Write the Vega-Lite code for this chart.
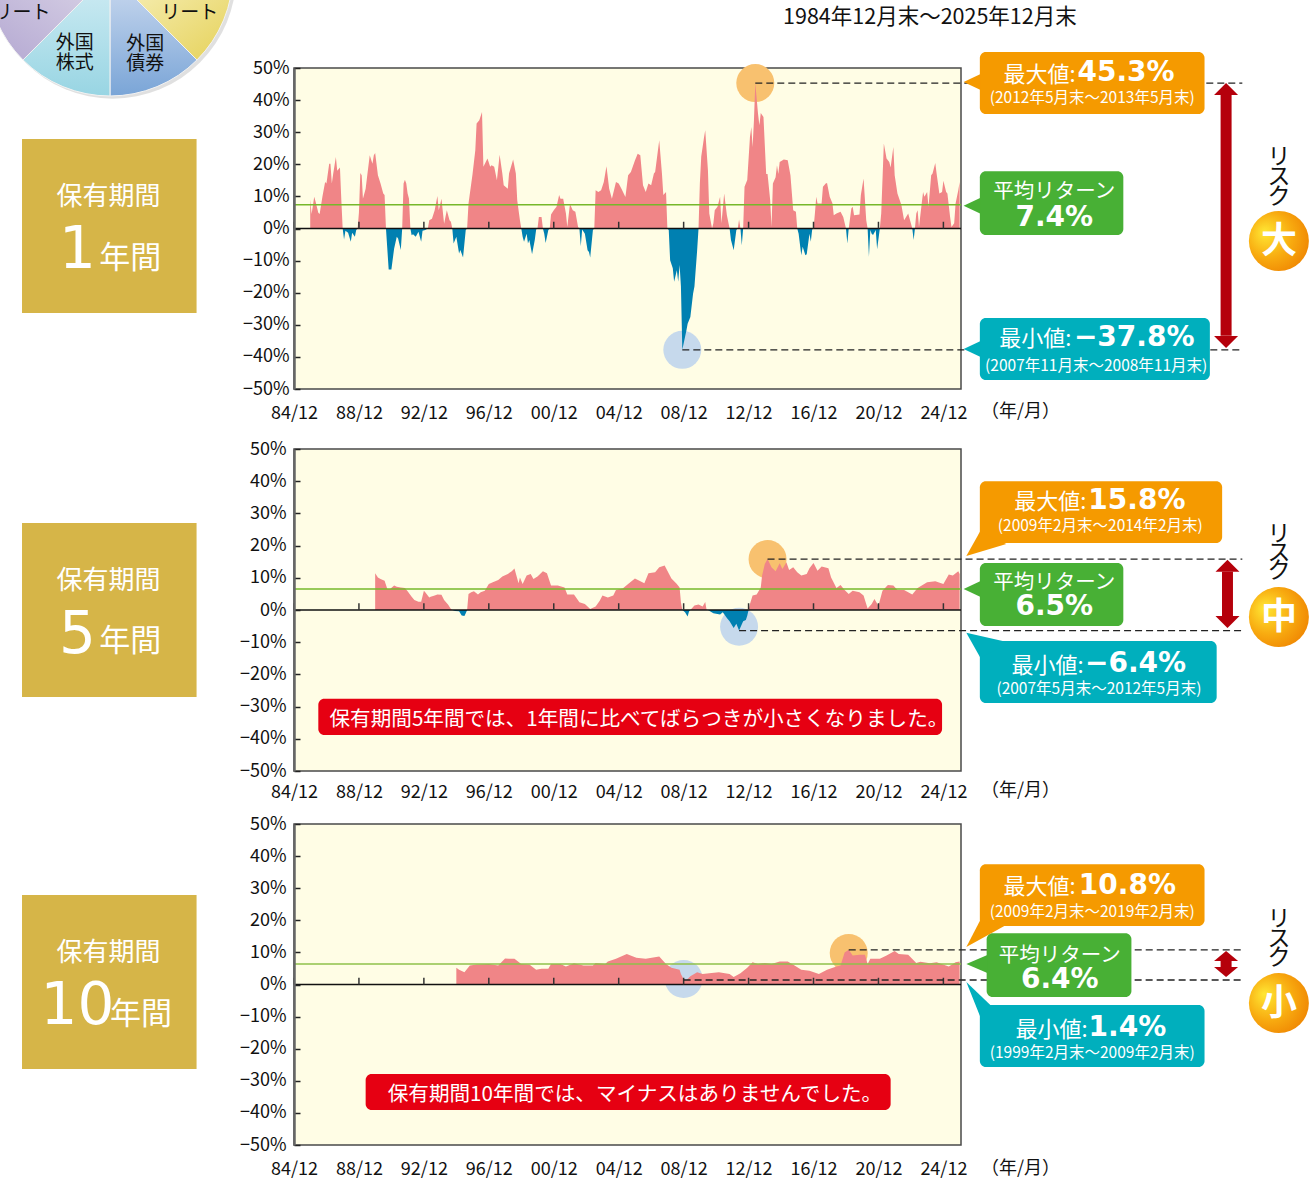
{"$schema":"https://vega.github.io/schema/vega-lite/v6.json","autosize":{"type":"none"},"padding":{"left":294,"top":68,"right":1016,"bottom":1113},"background":"#ffffff","bounds":"flush","spacing":0,"config":{"view":{"fill":"#fffde5","stroke":"#4a4a4a","strokeWidth":1.5},"text":{"font":"Noto Sans CJK JP"},"axis":{"labelFont":"Noto Sans CJK JP","labelColor":"#111111"}},
"datasets":{
"ticks":[{"d":"1984-12","r":0,"r2":2.1},{"d":"1988-12","r":0,"r2":2.1},{"d":"1992-12","r":0,"r2":2.1},{"d":"1996-12","r":0,"r2":2.1},{"d":"2000-12","r":0,"r2":2.1},{"d":"2004-12","r":0,"r2":2.1},{"d":"2008-12","r":0,"r2":2.1},{"d":"2012-12","r":0,"r2":2.1},{"d":"2016-12","r":0,"r2":2.1},{"d":"2020-12","r":0,"r2":2.1},{"d":"2024-12","r":0,"r2":2.1}],
"zero":[{"d":"1984-12","d2":"2026-01","r":0}],
"s1":[{"d":"1985-12","r":9},{"d":"1986-01","r":4.5},{"d":"1986-03","r":9.9},{"d":"1986-04","r":8.3},{"d":"1986-06","r":4.9},{"d":"1986-07","r":4.5},{"d":"1986-09","r":9.9},{"d":"1986-11","r":14.5},{"d":"1986-12","r":14},{"d":"1987-02","r":20.2},{"d":"1987-03","r":20.2},{"d":"1987-04","r":14},{"d":"1987-05","r":17},{"d":"1987-07","r":22.3},{"d":"1987-08","r":18},{"d":"1987-10","r":19},{"d":"1987-11","r":8.8},{"d":"1987-12","r":0},{"d":"1988-01","r":-3.4},{"d":"1988-02","r":-0.7},{"d":"1988-04","r":-1.3},{"d":"1988-06","r":-4.1},{"d":"1988-07","r":-1.3},{"d":"1988-09","r":-2.6},{"d":"1988-10","r":-0.5},{"d":"1988-11","r":0},{"d":"1988-12","r":5},{"d":"1989-01","r":17.3},{"d":"1989-02","r":16.6},{"d":"1989-03","r":9.3},{"d":"1989-05","r":12.4},{"d":"1989-06","r":16},{"d":"1989-08","r":22.8},{"d":"1989-10","r":20.2},{"d":"1989-11","r":22.8},{"d":"1989-12","r":23.5},{"d":"1990-02","r":16.6},{"d":"1990-04","r":14},{"d":"1990-06","r":10.9},{"d":"1990-07","r":10.4},{"d":"1990-08","r":0},{"d":"1990-10","r":-12.8},{"d":"1990-12","r":-12.8},{"d":"1991-02","r":-6.2},{"d":"1991-04","r":-2.6},{"d":"1991-05","r":-3.1},{"d":"1991-07","r":-6.7},{"d":"1991-08","r":0},{"d":"1991-09","r":14},{"d":"1991-10","r":15.2},{"d":"1991-11","r":14},{"d":"1991-12","r":10.9},{"d":"1992-01","r":9.3},{"d":"1992-02","r":0},{"d":"1992-03","r":-2.1},{"d":"1992-04","r":-1.8},{"d":"1992-06","r":-2.6},{"d":"1992-08","r":-1},{"d":"1992-10","r":-4.1},{"d":"1992-11","r":-0.7},{"d":"1993-01","r":-0.5},{"d":"1993-03","r":0},{"d":"1993-04","r":2.6},{"d":"1993-06","r":3},{"d":"1993-08","r":5.7},{"d":"1993-10","r":10.1},{"d":"1993-11","r":5.7},{"d":"1994-01","r":9.3},{"d":"1994-03","r":1.5},{"d":"1994-05","r":5.7},{"d":"1994-07","r":2.6},{"d":"1994-08","r":2.1},{"d":"1994-09","r":0},{"d":"1994-10","r":-4.7},{"d":"1994-12","r":-2.6},{"d":"1995-02","r":-7.8},{"d":"1995-03","r":-6.7},{"d":"1995-05","r":-9},{"d":"1995-07","r":-0.5},{"d":"1995-08","r":0},{"d":"1995-09","r":7.8},{"d":"1995-12","r":17},{"d":"1996-02","r":24.4},{"d":"1996-03","r":32.7},{"d":"1996-05","r":33.7},{"d":"1996-07","r":36.3},{"d":"1996-08","r":19.2},{"d":"1996-11","r":21.8},{"d":"1997-01","r":19.2},{"d":"1997-02","r":19.7},{"d":"1997-04","r":19.2},{"d":"1997-06","r":15},{"d":"1997-08","r":23},{"d":"1997-10","r":17.1},{"d":"1997-11","r":13.5},{"d":"1998-02","r":12.4},{"d":"1998-03","r":17.1},{"d":"1998-06","r":21.5},{"d":"1998-08","r":17.1},{"d":"1998-09","r":8.8},{"d":"1998-11","r":2.6},{"d":"1998-12","r":0},{"d":"1999-01","r":-2.6},{"d":"1999-02","r":-4.1},{"d":"1999-04","r":-1.6},{"d":"1999-05","r":-4.7},{"d":"1999-06","r":-3.6},{"d":"1999-08","r":-8},{"d":"1999-10","r":-3.6},{"d":"1999-11","r":-0.3},{"d":"1999-12","r":0},{"d":"2000-01","r":3.6},{"d":"2000-03","r":3.6},{"d":"2000-04","r":0},{"d":"2000-05","r":-1.6},{"d":"2000-06","r":-4.5},{"d":"2000-08","r":-0.5},{"d":"2000-09","r":0},{"d":"2000-10","r":4.4},{"d":"2000-12","r":5.7},{"d":"2001-02","r":6.8},{"d":"2001-04","r":10.4},{"d":"2001-05","r":9.3},{"d":"2001-07","r":9.3},{"d":"2001-09","r":4.7},{"d":"2001-10","r":0.5},{"d":"2001-12","r":7.6},{"d":"2002-02","r":5.7},{"d":"2002-04","r":5.2},{"d":"2002-06","r":0.5},{"d":"2002-07","r":0},{"d":"2002-08","r":-5.5},{"d":"2002-09","r":-0.3},{"d":"2002-11","r":-1.6},{"d":"2003-01","r":-6.8},{"d":"2003-02","r":-7.3},{"d":"2003-03","r":-9},{"d":"2003-05","r":-0.5},{"d":"2003-06","r":0},{"d":"2003-07","r":11.9},{"d":"2003-09","r":11.4},{"d":"2003-11","r":11.9},{"d":"2004-01","r":14.5},{"d":"2004-03","r":19.4},{"d":"2004-05","r":12.4},{"d":"2004-07","r":9.3},{"d":"2004-10","r":14.5},{"d":"2004-12","r":14},{"d":"2005-02","r":12.4},{"d":"2005-05","r":9.8},{"d":"2005-07","r":16.6},{"d":"2005-09","r":17.6},{"d":"2005-12","r":21.2},{"d":"2006-02","r":23.3},{"d":"2006-04","r":22.8},{"d":"2006-06","r":13.5},{"d":"2006-08","r":11.4},{"d":"2006-10","r":14},{"d":"2006-12","r":13.5},{"d":"2007-02","r":17.1},{"d":"2007-03","r":17.6},{"d":"2007-06","r":27.5},{"d":"2007-08","r":17.1},{"d":"2007-09","r":10.4},{"d":"2007-11","r":11.4},{"d":"2007-12","r":0},{"d":"2008-01","r":-0.5},{"d":"2008-02","r":-9.9},{"d":"2008-04","r":-12.4},{"d":"2008-05","r":-16.6},{"d":"2008-07","r":-13},{"d":"2008-08","r":-16.6},{"d":"2008-09","r":-11.4},{"d":"2008-10","r":-18},{"d":"2008-11","r":-37.8},{"d":"2009-02","r":-31.8},{"d":"2009-03","r":-29.7},{"d":"2009-05","r":-27.6},{"d":"2009-07","r":-20.3},{"d":"2009-08","r":-18.1},{"d":"2009-10","r":-6.8},{"d":"2009-11","r":0},{"d":"2009-12","r":14},{"d":"2010-01","r":22.4},{"d":"2010-03","r":28},{"d":"2010-04","r":30.6},{"d":"2010-06","r":18.1},{"d":"2010-07","r":4.7},{"d":"2010-09","r":0},{"d":"2010-10","r":1.6},{"d":"2010-11","r":5.7},{"d":"2011-01","r":6.8},{"d":"2011-03","r":9.9},{"d":"2011-04","r":1.6},{"d":"2011-06","r":10.9},{"d":"2011-08","r":4.1},{"d":"2011-10","r":0},{"d":"2011-11","r":-3.6},{"d":"2012-01","r":-6.8},{"d":"2012-03","r":-0.5},{"d":"2012-04","r":0},{"d":"2012-05","r":2.8},{"d":"2012-06","r":0},{"d":"2012-07","r":-5.2},{"d":"2012-08","r":0},{"d":"2012-09","r":13},{"d":"2012-11","r":15.1},{"d":"2013-01","r":28.5},{"d":"2013-02","r":31.6},{"d":"2013-03","r":25.4},{"d":"2013-04","r":33.7},{"d":"2013-05","r":45.3},{"d":"2013-07","r":35.8},{"d":"2013-08","r":32.2},{"d":"2013-09","r":36},{"d":"2013-11","r":34.7},{"d":"2014-01","r":17},{"d":"2014-02","r":17},{"d":"2014-04","r":8.8},{"d":"2014-05","r":0.5},{"d":"2014-06","r":14},{"d":"2014-08","r":16},{"d":"2014-09","r":19.7},{"d":"2014-10","r":17},{"d":"2014-11","r":20.7},{"d":"2015-02","r":21.5},{"d":"2015-05","r":21.3},{"d":"2015-07","r":16.6},{"d":"2015-09","r":5.7},{"d":"2015-11","r":5.2},{"d":"2015-12","r":0},{"d":"2016-01","r":-1.6},{"d":"2016-03","r":-8.3},{"d":"2016-04","r":-5.7},{"d":"2016-06","r":-8.3},{"d":"2016-07","r":-8},{"d":"2016-09","r":-1.6},{"d":"2016-10","r":-4.1},{"d":"2016-11","r":-0.3},{"d":"2016-12","r":0},{"d":"2017-01","r":4.7},{"d":"2017-02","r":9.9},{"d":"2017-03","r":7.8},{"d":"2017-06","r":7.8},{"d":"2017-07","r":13},{"d":"2017-09","r":14},{"d":"2017-10","r":14.2},{"d":"2017-12","r":9.9},{"d":"2018-02","r":7.8},{"d":"2018-03","r":4.1},{"d":"2018-05","r":4.7},{"d":"2018-08","r":5.2},{"d":"2018-10","r":3.6},{"d":"2018-12","r":0},{"d":"2019-01","r":-4.7},{"d":"2019-02","r":0},{"d":"2019-04","r":6.2},{"d":"2019-05","r":6.8},{"d":"2019-06","r":4.1},{"d":"2019-10","r":4.4},{"d":"2019-11","r":10.4},{"d":"2020-01","r":15.6},{"d":"2020-03","r":2.6},{"d":"2020-04","r":0},{"d":"2020-05","r":-8.8},{"d":"2020-06","r":-0.5},{"d":"2020-07","r":-1.6},{"d":"2020-08","r":-2},{"d":"2020-10","r":-0.5},{"d":"2020-11","r":-6.5},{"d":"2021-01","r":0},{"d":"2021-02","r":4.7},{"d":"2021-04","r":26.5},{"d":"2021-06","r":21.8},{"d":"2021-08","r":20.7},{"d":"2021-09","r":19},{"d":"2021-11","r":25.4},{"d":"2021-12","r":16.6},{"d":"2022-02","r":10.9},{"d":"2022-05","r":7.3},{"d":"2022-07","r":2.6},{"d":"2022-10","r":4.7},{"d":"2022-11","r":3.1},{"d":"2023-01","r":0},{"d":"2023-02","r":-3.6},{"d":"2023-03","r":0},{"d":"2023-04","r":4.7},{"d":"2023-05","r":5.7},{"d":"2023-06","r":0.5},{"d":"2023-08","r":7.8},{"d":"2023-09","r":11.4},{"d":"2023-10","r":9.9},{"d":"2023-12","r":11.4},{"d":"2024-01","r":6.8},{"d":"2024-03","r":16.6},{"d":"2024-04","r":17.1},{"d":"2024-06","r":20.4},{"d":"2024-07","r":17.1},{"d":"2024-09","r":10.9},{"d":"2024-11","r":11.4},{"d":"2024-12","r":14.9},{"d":"2025-02","r":11.4},{"d":"2025-03","r":10.9},{"d":"2025-05","r":3.6},{"d":"2025-06","r":0.5},{"d":"2025-08","r":1.6},{"d":"2025-09","r":7.8},{"d":"2025-11","r":11.9},{"d":"2025-12","r":14.5}],
"s2":[{"d":"1989-12","r":11.4},{"d":"1990-02","r":10.1},{"d":"1990-04","r":9.6},{"d":"1990-07","r":9.1},{"d":"1990-09","r":6.5},{"d":"1990-11","r":6.5},{"d":"1991-02","r":7.6},{"d":"1991-04","r":7.2},{"d":"1991-07","r":7},{"d":"1991-10","r":6.8},{"d":"1991-12","r":5.8},{"d":"1992-03","r":4.1},{"d":"1992-05","r":3.1},{"d":"1992-08","r":2.6},{"d":"1992-10","r":2.6},{"d":"1992-12","r":6},{"d":"1993-01","r":5.5},{"d":"1993-04","r":3.9},{"d":"1993-05","r":4.1},{"d":"1993-08","r":4.5},{"d":"1993-10","r":4.8},{"d":"1994-01","r":4.7},{"d":"1994-03","r":3.1},{"d":"1994-06","r":1.6},{"d":"1994-08","r":0.3},{"d":"1994-09","r":0},{"d":"1994-11","r":-0.3},{"d":"1995-02","r":-0.4},{"d":"1995-04","r":-1.7},{"d":"1995-06","r":-1.9},{"d":"1995-07","r":-1},{"d":"1995-08","r":0},{"d":"1995-09","r":5},{"d":"1995-11","r":5.5},{"d":"1996-01","r":5.8},{"d":"1996-04","r":4.8},{"d":"1996-06","r":5.5},{"d":"1996-09","r":6},{"d":"1996-12","r":8.1},{"d":"1997-03","r":8.6},{"d":"1997-07","r":9.3},{"d":"1997-10","r":10.4},{"d":"1998-02","r":11.2},{"d":"1998-05","r":12},{"d":"1998-07","r":12.9},{"d":"1998-10","r":8.3},{"d":"1998-11","r":10.1},{"d":"1999-01","r":8.1},{"d":"1999-04","r":10.7},{"d":"1999-07","r":11.2},{"d":"1999-09","r":9.6},{"d":"1999-12","r":10.4},{"d":"2000-04","r":12},{"d":"2000-07","r":11.4},{"d":"2000-10","r":7.6},{"d":"2001-03","r":7.6},{"d":"2001-08","r":7},{"d":"2001-10","r":4.8},{"d":"2002-03","r":4.8},{"d":"2002-07","r":2.4},{"d":"2002-11","r":1.9},{"d":"2003-03","r":0.3},{"d":"2003-07","r":1.1},{"d":"2003-10","r":2.9},{"d":"2003-12","r":4.5},{"d":"2004-04","r":3.9},{"d":"2004-08","r":4.5},{"d":"2004-10","r":6.2},{"d":"2005-03","r":6.7},{"d":"2005-07","r":8.1},{"d":"2005-12","r":9.8},{"d":"2006-07","r":8.3},{"d":"2006-10","r":11.4},{"d":"2007-03","r":11.7},{"d":"2007-06","r":13.3},{"d":"2007-10","r":13.8},{"d":"2007-12","r":12.2},{"d":"2008-03","r":9.8},{"d":"2008-07","r":8.1},{"d":"2008-09","r":7},{"d":"2008-10","r":2.4},{"d":"2008-11","r":0},{"d":"2009-01","r":-0.7},{"d":"2009-03","r":-2},{"d":"2009-04","r":-0.5},{"d":"2009-05","r":0},{"d":"2009-06","r":0.5},{"d":"2009-08","r":1.4},{"d":"2009-11","r":1.7},{"d":"2010-02","r":1.1},{"d":"2010-04","r":2.5},{"d":"2010-05","r":0.1},{"d":"2010-06","r":0},{"d":"2010-10","r":-1},{"d":"2011-03","r":-1.4},{"d":"2011-05","r":-0.7},{"d":"2011-08","r":-2.5},{"d":"2011-10","r":-3.5},{"d":"2012-01","r":-5.6},{"d":"2012-03","r":-4.3},{"d":"2012-05","r":-6.4},{"d":"2012-08","r":-3.5},{"d":"2012-10","r":-3.1},{"d":"2012-11","r":-1.8},{"d":"2012-12","r":0},{"d":"2013-01","r":1.9},{"d":"2013-03","r":4.5},{"d":"2013-06","r":4.8},{"d":"2013-09","r":7},{"d":"2013-10","r":10.7},{"d":"2013-12","r":14.3},{"d":"2014-02","r":15.8},{"d":"2014-05","r":13.3},{"d":"2014-08","r":12},{"d":"2014-11","r":14.5},{"d":"2015-01","r":12.7},{"d":"2015-04","r":14.8},{"d":"2015-06","r":12.4},{"d":"2015-09","r":13.3},{"d":"2015-12","r":11.7},{"d":"2016-03","r":10.7},{"d":"2016-07","r":11.2},{"d":"2016-09","r":13},{"d":"2016-12","r":14.6},{"d":"2017-03","r":12.2},{"d":"2017-06","r":13.5},{"d":"2017-11","r":13},{"d":"2018-01","r":10.1},{"d":"2018-05","r":6.8},{"d":"2018-08","r":7.8},{"d":"2018-11","r":6.2},{"d":"2019-02","r":5},{"d":"2019-05","r":6},{"d":"2019-10","r":5.5},{"d":"2020-01","r":4.5},{"d":"2020-04","r":0.5},{"d":"2020-07","r":1.9},{"d":"2020-09","r":3.4},{"d":"2020-12","r":1.3},{"d":"2021-03","r":6},{"d":"2021-07","r":7.8},{"d":"2021-11","r":7.6},{"d":"2022-02","r":6.2},{"d":"2022-07","r":6.2},{"d":"2023-01","r":4.8},{"d":"2023-05","r":6.8},{"d":"2023-12","r":8.6},{"d":"2024-06","r":8.9},{"d":"2024-12","r":8.1},{"d":"2025-04","r":11},{"d":"2025-07","r":10.7},{"d":"2025-11","r":12},{"d":"2025-12","r":11.2}],
"s3":[{"d":"1994-12","r":5.2},{"d":"1995-02","r":4.6},{"d":"1995-06","r":3.8},{"d":"1995-10","r":5.9},{"d":"1996-03","r":6.2},{"d":"1996-12","r":6.4},{"d":"1997-07","r":5.9},{"d":"1997-12","r":8.1},{"d":"1998-03","r":8},{"d":"1998-07","r":8},{"d":"1998-12","r":6.4},{"d":"1999-06","r":6.2},{"d":"1999-11","r":4.6},{"d":"2000-03","r":4.9},{"d":"2000-08","r":4.9},{"d":"2000-10","r":6.4},{"d":"2001-05","r":6.4},{"d":"2001-09","r":5.6},{"d":"2002-03","r":6.6},{"d":"2002-10","r":5.9},{"d":"2003-05","r":5.9},{"d":"2003-07","r":6.7},{"d":"2004-02","r":6.4},{"d":"2004-04","r":7.2},{"d":"2004-10","r":8},{"d":"2005-06","r":9.5},{"d":"2006-01","r":8.3},{"d":"2006-08","r":8},{"d":"2007-06","r":8.7},{"d":"2007-11","r":6.4},{"d":"2008-03","r":5.2},{"d":"2008-09","r":4.6},{"d":"2008-10","r":3.3},{"d":"2008-12","r":1.6},{"d":"2009-02","r":1.4},{"d":"2009-05","r":2.6},{"d":"2009-10","r":3.8},{"d":"2010-02","r":3.3},{"d":"2010-07","r":3.5},{"d":"2011-02","r":3.8},{"d":"2011-10","r":3.3},{"d":"2012-01","r":2.3},{"d":"2012-06","r":3.5},{"d":"2012-11","r":5.2},{"d":"2013-03","r":6.9},{"d":"2013-07","r":6.4},{"d":"2013-12","r":6.7},{"d":"2014-05","r":6.4},{"d":"2014-11","r":7.2},{"d":"2015-05","r":7.2},{"d":"2015-10","r":5.9},{"d":"2016-03","r":4.6},{"d":"2016-09","r":4.3},{"d":"2017-04","r":3.3},{"d":"2017-10","r":4.6},{"d":"2018-05","r":5.6},{"d":"2018-08","r":5.9},{"d":"2018-11","r":10},{"d":"2019-02","r":10.8},{"d":"2019-05","r":9},{"d":"2019-10","r":9.3},{"d":"2020-02","r":9.3},{"d":"2020-04","r":6.4},{"d":"2020-06","r":8},{"d":"2021-01","r":8},{"d":"2021-06","r":9},{"d":"2021-12","r":10.4},{"d":"2022-03","r":9.5},{"d":"2022-10","r":9.3},{"d":"2023-04","r":6.7},{"d":"2023-07","r":7.1},{"d":"2024-02","r":6.6},{"d":"2024-07","r":6.9},{"d":"2025-04","r":5.6},{"d":"2025-09","r":6.9},{"d":"2025-12","r":7.2}]
},
"vconcat":[
{"width":667,"height":321,"encoding":{"x":{"field":"d","type":"temporal","title":null,"scale":{"type":"utc","domain":["1984-12-01","2026-01-01"]},"axis":{"values":["1984-12-01","1988-12-01","1992-12-01","1996-12-01","2000-12-01","2004-12-01","2008-12-01","2012-12-01","2016-12-01","2020-12-01","2024-12-01"],"format":"%y/%m","ticks":false,"domain":false,"grid":false,"labelFontSize":18,"labelPadding":15,"labelFlush":false,"labelOverlap":false,"labelAngle":0}},"y":{"field":"r","type":"quantitative","title":null,"scale":{"domain":[-50,50],"nice":false},"axis":{"zindex":1,"values":[-50,-40,-30,-20,-10,0,10,20,30,40,50],"grid":false,"tickSize":-6,"tickColor":"#222222","tickWidth":1.5,"domainColor":"#666666","domainWidth":2.5,"labelFontSize":18,"labelPadding":11,"labelOverlap":false,"labelExpr":"(datum.value<0?'−':'')+abs(datum.value)+'%'"}}},
"layer":[
{"data":{"values":[{"d":"1973-10","r":78.9}]},"mark":{"type":"point","filled":true,"size":61000,"color":"#000000","opacity":0.12,"stroke":null}},
{"data":{"values":[{"d":"1973-08","r":79.6,"a0":2,"a1":3}]},"mark":{"type":"arc","outerRadius":123,"stroke":"#f2f2f2","strokeWidth":1,"fill":{"gradient":"linear","x1":0,"y1":0,"x2":1,"y2":1,"stops":[{"offset":0,"color":"#f9f3c4"},{"offset":1,"color":"#e5d158"}]}},"encoding":{"theta":{"field":"a0","type":"quantitative","stack":false,"scale":{"domain":[0,8],"range":[0,6.2832]}},"theta2":{"field":"a1"}}},
{"data":{"values":[{"d":"1973-08","r":79.6,"a0":3,"a1":4}]},"mark":{"type":"arc","outerRadius":123,"stroke":"#f2f2f2","strokeWidth":1,"fill":{"gradient":"linear","x1":0,"y1":0,"x2":0,"y2":1,"stops":[{"offset":0,"color":"#cfdcf0"},{"offset":1,"color":"#7aa5d7"}]}},"encoding":{"theta":{"field":"a0","type":"quantitative","stack":false,"scale":{"domain":[0,8],"range":[0,6.2832]}},"theta2":{"field":"a1"}}},
{"data":{"values":[{"d":"1973-08","r":79.6,"a0":4,"a1":5}]},"mark":{"type":"arc","outerRadius":123,"stroke":"#f2f2f2","strokeWidth":1,"fill":{"gradient":"linear","x1":0,"y1":0,"x2":0,"y2":1,"stops":[{"offset":0,"color":"#d2edf4"},{"offset":1,"color":"#98d5e3"}]}},"encoding":{"theta":{"field":"a0","type":"quantitative","stack":false,"scale":{"domain":[0,8],"range":[0,6.2832]}},"theta2":{"field":"a1"}}},
{"data":{"values":[{"d":"1973-08","r":79.6,"a0":5,"a1":6}]},"mark":{"type":"arc","outerRadius":123,"stroke":"#f2f2f2","strokeWidth":1,"fill":{"gradient":"linear","x1":1,"y1":0,"x2":0,"y2":1,"stops":[{"offset":0,"color":"#dcd6e8"},{"offset":1,"color":"#b3a7d1"}]}},"encoding":{"theta":{"field":"a0","type":"quantitative","stack":false,"scale":{"domain":[0,8],"range":[0,6.2832]}},"theta2":{"field":"a1"}}},
{"data":{"values":[{"d":"2013-05","r":45.3,"kind":"max"},{"d":"2008-11","r":-37.8,"kind":"min"}]},"mark":{"type":"point","filled":true,"size":1444,"opacity":1},"encoding":{"fill":{"field":"kind","type":"nominal","legend":null,"scale":{"domain":["max","min"],"range":["#f8c16f","#c6d9ec"]}}}},
{"data":{"name":"s1"},"transform":[{"filter":"datum.r>=0"}],"mark":{"type":"area","color":"#f08587","interpolate":"linear"}},
{"data":{"name":"s1"},"transform":[{"filter":"datum.r<=0"}],"mark":{"type":"area","color":"#0080b1","interpolate":"linear"}},
{"data":{"values":[{"d":"1984-12","d2":"2026-01","r":7.4}]},"mark":{"type":"rule","color":"#76b82a","strokeWidth":1.4},"encoding":{"x2":{"field":"d2"}}},
{"data":{"name":"zero"},"mark":{"type":"rule","color":"#111111","strokeWidth":1.5},"encoding":{"x2":{"field":"d2"}}},
{"data":{"name":"ticks"},"mark":{"type":"rule","color":"#333333","strokeWidth":1.5},"encoding":{"y2":{"field":"r2"}}},
{"data":{"values":[{"d":"2013-05","d2":"2043-05","r":45.3},{"d":"2008-11","d2":"2043-05","r":-37.8}]},"mark":{"type":"rule","color":"#222222","strokeWidth":1.3,"strokeDash":[7,4]},"encoding":{"x2":{"field":"d2"}}},
{"data":{"values":[{"d":"1968-03","d2":"1978-12","r":27.9,"r2":-26.3}]},"mark":{"type":"rect","color":"#d6b548"},"encoding":{"x2":{"field":"d2"},"y2":{"field":"r2"}}},
{"data":{"values":[{"d":"2027-03","d2":"2041-01","r":55,"r2":35.7,"kind":"max"},{"d":"2027-03","d2":"2036-01","r":17.8,"r2":-2,"kind":"mean"},{"d":"2027-03","d2":"2041-05","r":-27.9,"r2":-47.2,"kind":"min"}]},"mark":{"type":"rect","cornerRadius":6},"encoding":{"x2":{"field":"d2"},"y2":{"field":"r2"},"color":{"field":"kind","type":"nominal","legend":null,"scale":{"domain":["max","mean","min","note"],"range":["#f59a00","#48b035","#00afbd","#e60012"]}}}},
{"data":{"values":[{"d":"2026-03","r":45.6,"kind":"max"},{"d":"2026-03","r":7.1,"kind":"mean"},{"d":"2026-03","r":-37.5,"kind":"min"}]},"mark":{"type":"point","filled":true,"size":4,"opacity":1,"shape":"M0,0L17,-8L17,8Z"},"encoding":{"color":{"field":"kind","type":"nominal","legend":null,"scale":{"domain":["max","mean","min","note"],"range":["#f59a00","#48b035","#00afbd","#e60012"]}}}},
{"data":{"values":[{"d":"2042-05","r":41.6,"r2":-33.4}]},"mark":{"type":"rule","color":"#b5000b","strokeWidth":11},"encoding":{"y2":{"field":"r2"}}},
{"data":{"values":[{"d":"2042-05","r":45.3}]},"mark":{"type":"point","filled":true,"size":4,"opacity":1,"color":"#b5000b","shape":"M0,0L12,12L-12,12Z"}},
{"data":{"values":[{"d":"2042-05","r":-37.2}]},"mark":{"type":"point","filled":true,"size":4,"opacity":1,"color":"#b5000b","shape":"M0,0L12,-12L-12,-12Z"}},
{"data":{"values":[{"d":"2045-08","r":-3.9}]},"mark":{"type":"point","filled":true,"size":3600,"opacity":1,"fill":{"gradient":"radial","x1":0.25,"y1":0.35,"r1":0,"x2":0.4,"y2":0.45,"r2":0.7,"stops":[{"offset":0,"color":"#ffe734"},{"offset":0.55,"color":"#f8ab10"},{"offset":1,"color":"#ee8000"}]}}},
{"data":{"values":[{"d":"2045-08","r":-3.9,"t":"大"}]},"mark":{"type":"text","fontWeight":"bold","fontSize":36,"color":"#ffffff","baseline":"middle","dy":1},"encoding":{"text":{"field":"t"}}},
{"data":{"values":[{"d":"1973-07","r":10.4,"t":"保有期間","role":"term"},{"d":"1974-11","r":-8.9,"t":"年間","role":"year"},{"d":"2030-11","r":48.4,"t":"最大値:","role":"label"},{"d":"2034-02","r":41,"t":"(2012年5月末～2013年5月末)","role":"sub"},{"d":"2031-10","r":11.7,"t":"平均リターン","role":"mean"},{"d":"2030-08","r":-34.1,"t":"最小値:","role":"label"},{"d":"2034-05","r":-42.5,"t":"(2007年11月末～2008年11月末)","role":"sub"}]},"mark":{"type":"text","color":"#ffffff","baseline":"middle","dy":1.5},"encoding":{"text":{"field":"t"},"size":{"field":"role","type":"nominal","legend":null,"scale":{"type":"ordinal","domain":["term","year","label","sub","note","title","unit","risk","pie","mean"],"range":[26,31,22,15.5,20.6,21.5,18,23,19,20.5]}}}},
{"data":{"values":[{"d":"2036-03","r":49,"t":"45.3%"},{"d":"2031-10","r":3.9,"t":"7.4%"},{"d":"2036-09","r":-33.5,"t":"−37.8%"}]},"mark":{"type":"text","color":"#ffffff","font":"DejaVu Sans","fontWeight":"bold","fontSize":28,"baseline":"middle","dy":2},"encoding":{"text":{"field":"t"}}},
{"data":{"values":[{"d":"1971-08","r":-5.8,"t":"1"}]},"mark":{"type":"text","color":"#ffffff","font":"DejaVu Sans","fontSize":58,"baseline":"middle","dy":4},"encoding":{"text":{"field":"t"}}},
{"data":{"values":[{"d":"2024-02","r":65.9,"t":"1984年12月末～2025年12月末","role":"title"},{"d":"2029-09","r":-56.9,"t":"（年/月）","role":"unit"},{"d":"2045-08","r":22.6,"t":"リ","role":"risk"},{"d":"2045-08","r":16.4,"t":"ス","role":"risk"},{"d":"2045-08","r":10.1,"t":"ク","role":"risk"},{"d":"1971-06","r":58.1,"t":"外国","role":"pie"},{"d":"1971-06","r":51.9,"t":"株式","role":"pie"},{"d":"1975-10","r":57.8,"t":"外国","role":"pie"},{"d":"1975-10","r":51.6,"t":"債券","role":"pie"},{"d":"1968-03","r":67.5,"t":"リート","role":"pie"},{"d":"1978-07","r":67.5,"t":"リート","role":"pie"},{"d":"1978-07","r":74,"t":"国内","role":"pie"}]},"mark":{"type":"text","color":"#111111","baseline":"middle","dy":1},"encoding":{"text":{"field":"t"},"size":{"field":"role","type":"nominal","legend":null,"scale":{"type":"ordinal","domain":["term","year","label","sub","note","title","unit","risk","pie","mean"],"range":[26,31,22,15.5,20.6,21.5,18,23,19,20.5]}}}}
]},
{"width":667,"height":60,"view":{"fill":null,"stroke":null},"data":{"values":[{"t":""}]},"mark":{"type":"text"},"encoding":{"text":{"field":"t"}}},
{"width":667,"height":322,"encoding":{"x":{"field":"d","type":"temporal","title":null,"scale":{"type":"utc","domain":["1984-12-01","2026-01-01"]},"axis":{"values":["1984-12-01","1988-12-01","1992-12-01","1996-12-01","2000-12-01","2004-12-01","2008-12-01","2012-12-01","2016-12-01","2020-12-01","2024-12-01"],"format":"%y/%m","ticks":false,"domain":false,"grid":false,"labelFontSize":18,"labelPadding":12,"labelFlush":false,"labelOverlap":false,"labelAngle":0}},"y":{"field":"r","type":"quantitative","title":null,"scale":{"domain":[-50,50],"nice":false},"axis":{"zindex":1,"values":[-50,-40,-30,-20,-10,0,10,20,30,40,50],"grid":false,"tickSize":-6,"tickColor":"#222222","tickWidth":1.5,"domainColor":"#666666","domainWidth":2.5,"labelFontSize":18,"labelPadding":14,"labelOverlap":false,"labelExpr":"(datum.value<0?'−':'')+abs(datum.value)+'%'"}}},
"layer":[
{"data":{"values":[{"d":"2014-02","r":15.8,"kind":"max"},{"d":"2012-05","r":-5.2,"kind":"min"}]},"mark":{"type":"point","filled":true,"size":1444,"opacity":1},"encoding":{"fill":{"field":"kind","type":"nominal","legend":null,"scale":{"domain":["max","min"],"range":["#f8c16f","#c6d9ec"]}}}},
{"data":{"name":"s2"},"transform":[{"filter":"datum.r>=0"}],"mark":{"type":"area","color":"#f08587"}},
{"data":{"name":"s2"},"transform":[{"filter":"datum.r<=0"}],"mark":{"type":"area","color":"#0080b1"}},
{"data":{"values":[{"d":"1984-12","d2":"2026-01","r":6.5}]},"mark":{"type":"rule","color":"#76b82a","strokeWidth":1.4},"encoding":{"x2":{"field":"d2"}}},
{"data":{"name":"zero"},"mark":{"type":"rule","color":"#111111","strokeWidth":1.5},"encoding":{"x2":{"field":"d2"}}},
{"data":{"name":"ticks"},"mark":{"type":"rule","color":"#333333","strokeWidth":1.5},"encoding":{"y2":{"field":"r2"}}},
{"data":{"values":[{"d":"2014-02","d2":"2043-05","r":15.8},{"d":"2012-05","d2":"2043-05","r":-6.4}]},"mark":{"type":"rule","color":"#222222","strokeWidth":1.3,"strokeDash":[7,4]},"encoding":{"x2":{"field":"d2"}}},
{"data":{"values":[{"d":"1968-03","d2":"1978-12","r":27,"r2":-27}]},"mark":{"type":"rect","color":"#d6b548"},"encoding":{"x2":{"field":"d2"},"y2":{"field":"r2"}}},
{"data":{"values":[{"d":"2027-03","d2":"2042-02","r":40,"r2":20.8,"kind":"max"},{"d":"2027-03","d2":"2036-01","r":14.6,"r2":-5,"kind":"mean"},{"d":"2027-03","d2":"2041-10","r":-9.6,"r2":-28.9,"kind":"min"},{"d":"1986-06","d2":"2024-11","r":-27.6,"r2":-38.8,"kind":"note"}]},"mark":{"type":"rect","cornerRadius":6},"encoding":{"x2":{"field":"d2"},"y2":{"field":"r2"},"color":{"field":"kind","type":"nominal","legend":null,"scale":{"domain":["max","mean","min","note"],"range":["#f59a00","#48b035","#00afbd","#e60012"]}}}},
{"data":{"values":[{"d":"2026-05","r":16.8}]},"mark":{"type":"point","filled":true,"size":4,"opacity":1,"color":"#f59a00","shape":"M0,0L14,-25L40,-12Z"}},
{"data":{"values":[{"d":"2026-03","r":6.5}]},"mark":{"type":"point","filled":true,"size":4,"opacity":1,"color":"#48b035","shape":"M0,0L17,-8L17,8Z"}},
{"data":{"values":[{"d":"2026-05","r":-7.1}]},"mark":{"type":"point","filled":true,"size":4,"opacity":1,"color":"#00afbd","shape":"M0,0L44,10L14,25Z"}},
{"data":{"values":[{"d":"2042-06","r":11.9,"r2":-1.9}]},"mark":{"type":"rule","color":"#b5000b","strokeWidth":11},"encoding":{"y2":{"field":"r2"}}},
{"data":{"values":[{"d":"2042-06","r":15.6}]},"mark":{"type":"point","filled":true,"size":4,"opacity":1,"color":"#b5000b","shape":"M0,0L12,12L-12,12Z"}},
{"data":{"values":[{"d":"2042-06","r":-5.6}]},"mark":{"type":"point","filled":true,"size":4,"opacity":1,"color":"#b5000b","shape":"M0,0L12,-12L-12,-12Z"}},
{"data":{"values":[{"d":"2045-08","r":-2.2}]},"mark":{"type":"point","filled":true,"size":3600,"opacity":1,"fill":{"gradient":"radial","x1":0.25,"y1":0.35,"r1":0,"x2":0.4,"y2":0.45,"r2":0.7,"stops":[{"offset":0,"color":"#ffe734"},{"offset":0.55,"color":"#f8ab10"},{"offset":1,"color":"#ee8000"}]}}},
{"data":{"values":[{"d":"2045-08","r":-2.2,"t":"中"}]},"mark":{"type":"text","fontWeight":"bold","fontSize":36,"color":"#ffffff","baseline":"middle","dy":1},"encoding":{"text":{"field":"t"}}},
{"data":{"values":[{"d":"1973-07","r":9.6,"t":"保有期間","role":"term"},{"d":"1974-11","r":-9.6,"t":"年間","role":"year"},{"d":"2031-07","r":33.9,"t":"最大値:","role":"label"},{"d":"2034-08","r":26.4,"t":"(2009年2月末～2014年2月末)","role":"sub"},{"d":"2031-10","r":9,"t":"平均リターン","role":"mean"},{"d":"2031-05","r":-16.8,"t":"最小値:","role":"label"},{"d":"2034-07","r":-24.2,"t":"(2007年5月末～2012年5月末)","role":"sub"},{"d":"2006-03","r":-33.8,"t":"保有期間5年間では、1年間に比べてばらつきが小さくなりました。","role":"note"}]},"mark":{"type":"text","color":"#ffffff","baseline":"middle","dy":1.5},"encoding":{"text":{"field":"t"},"size":{"field":"role","type":"nominal","legend":null,"scale":{"type":"ordinal","domain":["term","year","label","sub","note","title","unit","risk","pie","mean"],"range":[26,31,22,15.5,20.6,21.5,18,23,19,20.5]}}}},
{"data":{"values":[{"d":"2036-11","r":34.5,"t":"15.8%"},{"d":"2031-10","r":1.6,"t":"6.5%"},{"d":"2036-10","r":-16.1,"t":"−6.4%"}]},"mark":{"type":"text","color":"#ffffff","font":"DejaVu Sans","fontWeight":"bold","fontSize":28,"baseline":"middle","dy":2},"encoding":{"text":{"field":"t"}}},
{"data":{"values":[{"d":"1971-08","r":-6.8,"t":"5"}]},"mark":{"type":"text","color":"#ffffff","font":"DejaVu Sans","fontSize":58,"baseline":"middle","dy":4},"encoding":{"text":{"field":"t"}}},
{"data":{"values":[{"d":"2029-09","r":-55.9,"t":"（年/月）","role":"unit"},{"d":"2045-08","r":23.9,"t":"リ","role":"risk"},{"d":"2045-08","r":18,"t":"ス","role":"risk"},{"d":"2045-08","r":12.4,"t":"ク","role":"risk"}]},"mark":{"type":"text","color":"#111111","baseline":"middle","dy":1},"encoding":{"text":{"field":"t"},"size":{"field":"role","type":"nominal","legend":null,"scale":{"type":"ordinal","domain":["term","year","label","sub","note","title","unit","risk","pie","mean"],"range":[26,31,22,15.5,20.6,21.5,18,23,19,20.5]}}}}
]},
{"width":667,"height":53,"view":{"fill":null,"stroke":null},"data":{"values":[{"t":""}]},"mark":{"type":"text"},"encoding":{"text":{"field":"t"}}},
{"width":667,"height":321,"encoding":{"x":{"field":"d","type":"temporal","title":null,"scale":{"type":"utc","domain":["1984-12-01","2026-01-01"]},"axis":{"values":["1984-12-01","1988-12-01","1992-12-01","1996-12-01","2000-12-01","2004-12-01","2008-12-01","2012-12-01","2016-12-01","2020-12-01","2024-12-01"],"format":"%y/%m","ticks":false,"domain":false,"grid":false,"labelFontSize":18,"labelPadding":15,"labelFlush":false,"labelOverlap":false,"labelAngle":0}},"y":{"field":"r","type":"quantitative","title":null,"scale":{"domain":[-50,50],"nice":false},"axis":{"zindex":1,"values":[-50,-40,-30,-20,-10,0,10,20,30,40,50],"grid":false,"tickSize":-6,"tickColor":"#222222","tickWidth":1.5,"domainColor":"#666666","domainWidth":2.5,"labelFontSize":18,"labelPadding":14,"labelOverlap":false,"labelExpr":"(datum.value<0?'−':'')+abs(datum.value)+'%'"}}},
"layer":[
{"data":{"values":[{"d":"2019-02","r":9.8,"kind":"max"},{"d":"2008-12","r":1.7,"kind":"min"}]},"mark":{"type":"point","filled":true,"size":1444,"opacity":1},"encoding":{"fill":{"field":"kind","type":"nominal","legend":null,"scale":{"domain":["max","min"],"range":["#f8c16f","#c6d9ec"]}}}},
{"data":{"name":"s3"},"mark":{"type":"area","color":"#f08587"}},
{"data":{"values":[{"d":"1984-12","d2":"2026-01","r":6.4}]},"mark":{"type":"rule","color":"#8fc04a","strokeWidth":1.4},"encoding":{"x2":{"field":"d2"}}},
{"data":{"name":"zero"},"mark":{"type":"rule","color":"#111111","strokeWidth":1.5},"encoding":{"x2":{"field":"d2"}}},
{"data":{"name":"ticks"},"mark":{"type":"rule","color":"#333333","strokeWidth":1.5},"encoding":{"y2":{"field":"r2"}}},
{"data":{"values":[{"d":"2019-02","d2":"2043-05","r":10.8},{"d":"2008-12","d2":"2043-05","r":1.4}]},"mark":{"type":"rule","color":"#222222","strokeWidth":1.3,"strokeDash":[7,4]},"encoding":{"x2":{"field":"d2"}}},
{"data":{"values":[{"d":"1968-03","d2":"1978-12","r":27.9,"r2":-26.3}]},"mark":{"type":"rect","color":"#d6b548"},"encoding":{"x2":{"field":"d2"},"y2":{"field":"r2"}}},
{"data":{"values":[{"d":"2027-03","d2":"2041-01","r":37.5,"r2":18.2,"kind":"max"},{"d":"2027-08","d2":"2036-07","r":16,"r2":-3.9,"kind":"mean"},{"d":"2027-03","d2":"2041-01","r":-6.4,"r2":-25.7,"kind":"min"},{"d":"1989-05","d2":"2021-09","r":-27.9,"r2":-39.1,"kind":"note"}]},"mark":{"type":"rect","cornerRadius":6},"encoding":{"x2":{"field":"d2"},"y2":{"field":"r2"},"color":{"field":"kind","type":"nominal","legend":null,"scale":{"domain":["max","mean","min","note"],"range":["#f59a00","#48b035","#00afbd","#e60012"]}}}},
{"data":{"values":[{"d":"2026-05","r":11.7}]},"mark":{"type":"point","filled":true,"size":4,"opacity":1,"color":"#f59a00","shape":"M0,0L14,-27L38,-21Z"}},
{"data":{"values":[{"d":"2026-05","r":6.4}]},"mark":{"type":"point","filled":true,"size":4,"opacity":1,"color":"#48b035","shape":"M0,0L21,-9L21,9Z"}},
{"data":{"values":[{"d":"2026-05","r":0.8}]},"mark":{"type":"point","filled":true,"size":4,"opacity":1,"color":"#00afbd","shape":"M0,0L24,23L14,35Z"}},
{"data":{"values":[{"d":"2042-05","r":8.3,"r2":4.5}]},"mark":{"type":"rule","color":"#b5000b","strokeWidth":11},"encoding":{"y2":{"field":"r2"}}},
{"data":{"values":[{"d":"2042-05","r":10.4}]},"mark":{"type":"point","filled":true,"size":4,"opacity":1,"color":"#b5000b","shape":"M0,0L12,10L-12,10Z"}},
{"data":{"values":[{"d":"2042-05","r":2.3}]},"mark":{"type":"point","filled":true,"size":4,"opacity":1,"color":"#b5000b","shape":"M0,0L12,-10L-12,-10Z"}},
{"data":{"values":[{"d":"2045-08","r":-5.8}]},"mark":{"type":"point","filled":true,"size":3600,"opacity":1,"fill":{"gradient":"radial","x1":0.25,"y1":0.35,"r1":0,"x2":0.4,"y2":0.45,"r2":0.7,"stops":[{"offset":0,"color":"#ffe734"},{"offset":0.55,"color":"#f8ab10"},{"offset":1,"color":"#ee8000"}]}}},
{"data":{"values":[{"d":"2045-08","r":-5.8,"t":"小"}]},"mark":{"type":"text","fontWeight":"bold","fontSize":36,"color":"#ffffff","baseline":"middle","dy":1},"encoding":{"text":{"field":"t"}}},
{"data":{"values":[{"d":"1973-07","r":10.4,"t":"保有期間","role":"term"},{"d":"1975-07","r":-8.9,"t":"年間","role":"year"},{"d":"2030-11","r":30.7,"t":"最大値:","role":"label"},{"d":"2034-02","r":23.2,"t":"(2009年2月末～2019年2月末)","role":"sub"},{"d":"2032-02","r":9.2,"t":"平均リターン","role":"mean"},{"d":"2031-08","r":-13.6,"t":"最小値:","role":"label"},{"d":"2034-02","r":-21,"t":"(1999年2月末～2009年2月末)","role":"sub"},{"d":"2005-12","r":-34,"t":"保有期間10年間では、マイナスはありませんでした。","role":"note"}]},"mark":{"type":"text","color":"#ffffff","baseline":"middle","dy":1.5},"encoding":{"text":{"field":"t"},"size":{"field":"role","type":"nominal","legend":null,"scale":{"type":"ordinal","domain":["term","year","label","sub","note","title","unit","risk","pie","mean"],"range":[26,31,22,15.5,20.6,21.5,18,23,19,20.5]}}}},
{"data":{"values":[{"d":"2036-04","r":31.3,"t":"10.8%"},{"d":"2032-02","r":2,"t":"6.4%"},{"d":"2036-04","r":-12.9,"t":"1.4%"}]},"mark":{"type":"text","color":"#ffffff","font":"DejaVu Sans","fontWeight":"bold","fontSize":28,"baseline":"middle","dy":2},"encoding":{"text":{"field":"t"}}},
{"data":{"values":[{"d":"1971-08","r":-5.8,"t":"10"}]},"mark":{"type":"text","color":"#ffffff","font":"DejaVu Sans","fontSize":58,"baseline":"middle","dy":4},"encoding":{"text":{"field":"t"}}},
{"data":{"values":[{"d":"2029-09","r":-57.2,"t":"（年/月）","role":"unit"},{"d":"2045-08","r":20.7,"t":"リ","role":"risk"},{"d":"2045-08","r":14.5,"t":"ス","role":"risk"},{"d":"2045-08","r":8.6,"t":"ク","role":"risk"}]},"mark":{"type":"text","color":"#111111","baseline":"middle","dy":1},"encoding":{"text":{"field":"t"},"size":{"field":"role","type":"nominal","legend":null,"scale":{"type":"ordinal","domain":["term","year","label","sub","note","title","unit","risk","pie","mean"],"range":[26,31,22,15.5,20.6,21.5,18,23,19,20.5]}}}}
]}
]}
